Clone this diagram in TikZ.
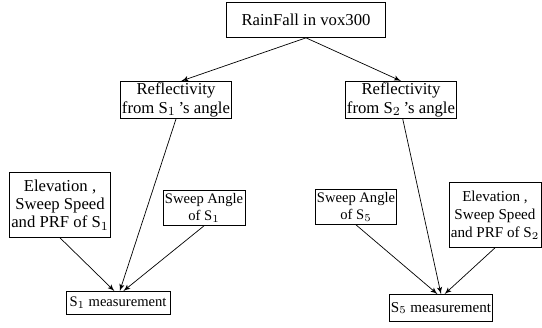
\documentclass[tikz,border=0pt]{standalone}
\usepackage{fontspec}
\setmainfont{Liberation Serif}
\usetikzlibrary{arrows}
\tikzset{box/.style = {shape = rectangle, draw, align = center, inner sep = 1pt, font = \fontsize{9.5}{10.5}\selectfont}}
\tikzset{small/.style = {font = \fontsize{8.3}{9.5}\selectfont}}
\tikzset{edge/.style = {->,> = latex'}}

\begin{document}
\begin{tikzpicture}
			\useasboundingbox (0, 0) rectangle (10.84, -6.56);

			\node[box, minimum width = 3.18cm, minimum height = 0.7cm] (rain) at (6.12, -0.40) {RainFall in vox300};
			\node[box, minimum width = 1.98cm, minimum height = 0.7cm] (refla) at (3.52, -2.00) {Reflectivity\\from S$_1$\,'s angle};
			\node[box, minimum width = 1.98cm, minimum height = 0.7cm] (reflb) at (8.02, -2.00) {Reflectivity\\from S$_2$\,'s angle};
			\node[box, minimum width = 2.00cm, minimum height = 1.3cm] (eleva) at (1.20, -4.10) {Elevation ,\\Sweep Speed\\and PRF of S$_1$};
			\node[box, small, minimum width = 1.64cm, minimum height = 0.7cm] (sweepa) at (4.08, -4.16) {Sweep Angle\\of S$_1$};
			\node[box, small, minimum width = 1.60cm, minimum height = 0.7cm] (sweepb) at (7.12, -4.14) {Sweep Angle\\of S$_5$};
			\node[box, font = \fontsize{8.6}{10.3}\selectfont, minimum width = 1.82cm, minimum height = 1.3cm] (elevb) at (9.90, -4.30) {Elevation ,\\Sweep Speed\\and PRF of S$_2$};
			\node[box, small, minimum width = 2.08cm, minimum height = 0.46cm] (measa) at (2.36, -6.06) {S$_1$ measurement};
			\node[box, font = \fontsize{8.6}{10}\selectfont, minimum width = 1.94cm, minimum height = 0.54cm] (measb) at (8.82, -6.16) {S$_5$ measurement};

			\draw[edge] (rain.south) to ([xshift = 3pt]refla.north);
			\draw[edge] (rain.south) to (reflb.north);
			\draw[edge] (refla.south) to ([xshift = 1pt]measa.north);
			\draw[edge] (eleva.south) to ([xshift = -2pt]measa.north);
			\draw[edge] (sweepa.south) to ([xshift = 3pt]measa.north);
			\draw[edge] ([xshift = 1pt]reflb.south) to (measb.north);
			\draw[edge] (sweepb.south) to ([xshift = -2pt]measb.north);
			\draw[edge] (elevb.south) to ([xshift = 2pt]measb.north);
		\end{tikzpicture}
\end{document}
